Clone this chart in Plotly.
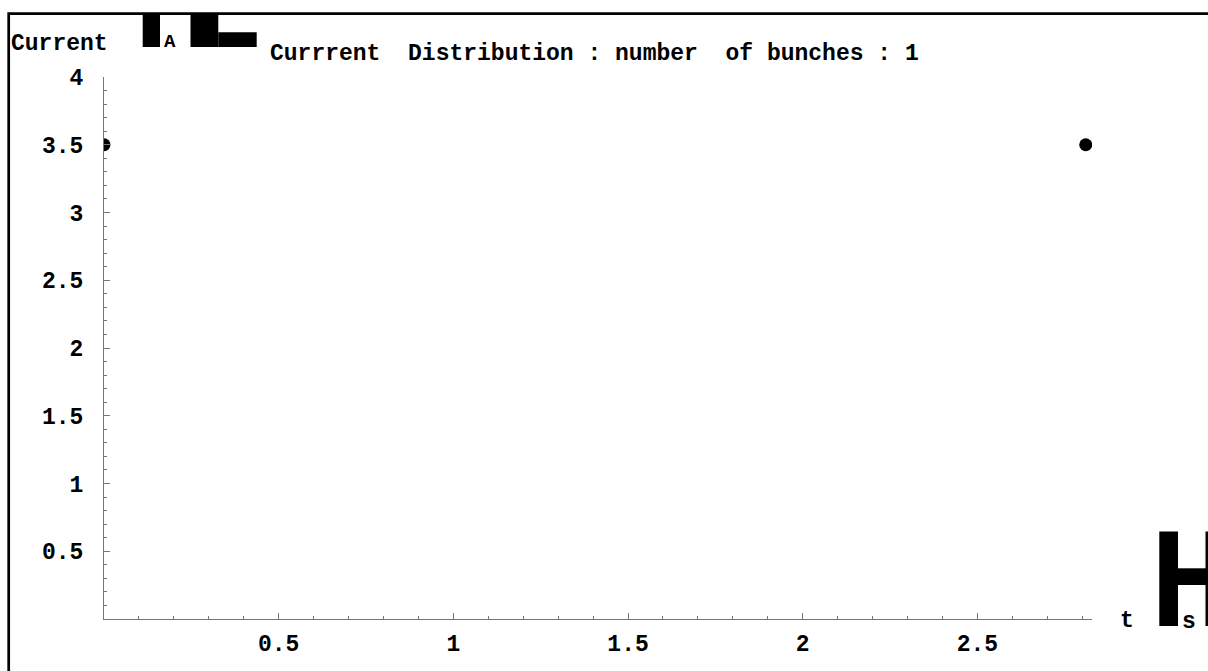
import plotly.graph_objects as go

# ---- data ----
time_us = [0.0, 2.81]
current_uA = [3.5, 3.5]
x_tick_vals = [0.5, 1, 1.5, 2, 2.5]
x_tick_text = ["0.5", "1", "1.5", "2", "2.5"]
y_tick_vals = [0.5, 1, 1.5, 2, 2.5, 3, 3.5, 4]
y_tick_text = ["0.5", "1", "1.5", "2", "2.5", "3", "3.5", "4"]
title_text = "Currrent&nbsp;&nbsp;Distribution : number&nbsp;&nbsp;of bunches : 1"

W, H = 1208, 671
L, R, T, B = 104, 116, 77, 52
PW, PH = W - L - R, H - T - B


def px(x):
    return (x - L) / PW


def py(y):
    return (H - B - y) / PH


FONT = "Liberation Mono, Courier New, monospace"

fig = go.Figure()
fig.add_trace(go.Scatter(
    x=time_us, y=current_uA, mode="markers",
    marker=dict(color="black", size=13),
    showlegend=False, cliponaxis=True,
))

axis_common = dict(
    showgrid=False, zeroline=False, showline=True, linecolor="#777", linewidth=1,
    ticks="inside", ticklen=6, tickcolor="#777", tickwidth=1,
    tickfont=dict(family=FONT, size=23, color="black", weight="bold"),
)

fig.update_xaxes(
    range=[0, 2.828], tickmode="array", tickvals=x_tick_vals, ticktext=x_tick_text,
    minor=dict(ticks="inside", dtick=0.1, tick0=0, ticklen=3, tickcolor="#777"),
    ticklabelstandoff=3, **axis_common,
)
fig.update_yaxes(
    range=[0, 4], tickmode="array", tickvals=y_tick_vals, ticktext=y_tick_text,
    minor=dict(ticks="inside", dtick=0.1, tick0=0, ticklen=3, tickcolor="#777"),
    ticklabelstandoff=15, **axis_common,
)

ann_font = dict(family=FONT, size=23, color="black", weight="bold")
annots = [
    dict(text="Current", x=px(9), y=py(44), xanchor="left", yanchor="middle"),
    dict(text="A", x=px(162), y=py(42), xanchor="left", yanchor="middle",
         font=dict(family=FONT, size=19, color="black", weight="bold")),
    dict(text=title_text, x=px(268), y=py(54), xanchor="left", yanchor="middle"),
    dict(text="t", x=px(1118), y=py(621), xanchor="left", yanchor="middle"),
    dict(text="s", x=px(1180), y=py(622), xanchor="left", yanchor="middle"),
]
for a in annots:
    a.setdefault("font", ann_font)
    fig.add_annotation(xref="paper", yref="paper", showarrow=False, **a)

shapes = []
# frame border
shapes.append(dict(type="rect", xref="paper", yref="paper",
                   x0=px(8.7), x1=px(1220), y0=py(13.7), y1=py(690),
                   line=dict(color="black", width=2.7), fillcolor="rgba(0,0,0,0)"))


def block(x0, y0, x1, y1):
    shapes.append(dict(type="rect", xref="paper", yref="paper",
                       x0=px(x0), x1=px(x1), y0=py(y0), y1=py(y1),
                       line=dict(width=0), fillcolor="black"))


# rendering-artifact glyph blocks
block(142.7, 13, 160, 47)
block(190.5, 13, 218.3, 47)
block(218.3, 32.3, 256.7, 47)
block(1159.3, 531.5, 1178, 626)
block(1178, 568.3, 1210, 585)
block(1205.5, 531.5, 1210, 626)

fig.update_layout(
    width=W, height=H, margin=dict(l=L, r=R, t=T, b=B, autoexpand=False),
    paper_bgcolor="white", plot_bgcolor="white", shapes=shapes,
    font=dict(family=FONT, color="black"),
)

fig.write_html("out.html")
